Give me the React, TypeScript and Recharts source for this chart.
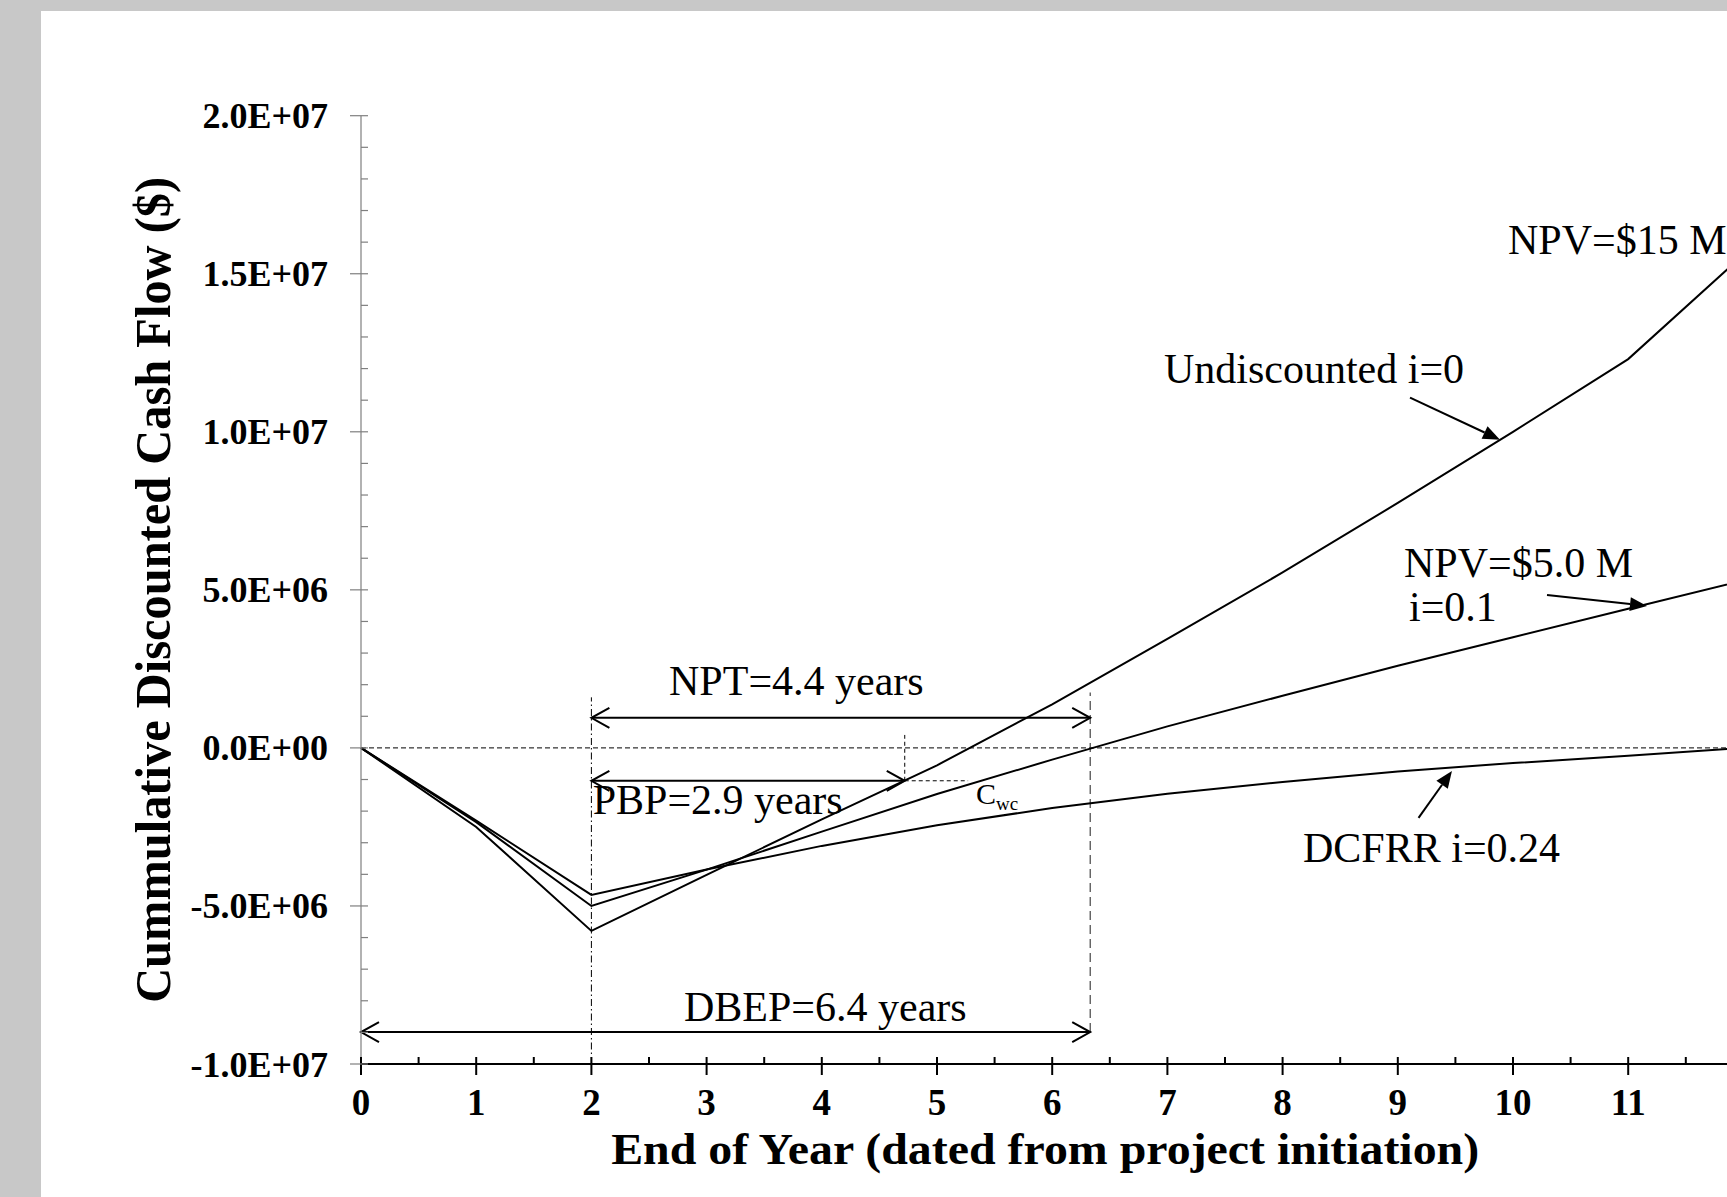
import React from "react";
import { LineChart, Line, XAxis, YAxis, ReferenceLine, ReferenceDot, Label } from "recharts";

// end of year, dated from project initiation
const years = [0, 1, 2, 3, 4, 5, 6, 7, 8, 9, 10, 11, 12];

// cumulative cash flow, $
const undiscounted = [0, -2.5e6, -5.79e6, -4.02e6, -2.26e6, -0.55e6, 1.38e6, 3.45e6, 5.55e6, 7.75e6, 10.0e6, 12.3e6, 15.6e6];
const discounted10 = [0, -2.35e6, -5.0e6, -3.85e6, -2.65e6, -1.46e6, -0.37e6, 0.68e6, 1.65e6, 2.6e6, 3.5e6, 4.4e6, 5.3e6];
const dcfrr24 = [0, -2.3e6, -4.65e6, -3.85e6, -3.1e6, -2.45e6, -1.9e6, -1.45e6, -1.08e6, -0.75e6, -0.48e6, -0.25e6, 0];

const xTickLabels = ["0", "1", "2", "3", "4", "5", "6", "7", "8", "9", "10", "11"];
const yMajor = [-1e7, -5e6, 0, 5e6, 1e7, 1.5e7, 2e7];
const yTickLabels = ["-1.0E+07", "-5.0E+06", "0.0E+00", "5.0E+06", "1.0E+07", "1.5E+07", "2.0E+07"];
const yTicks = Array.from({ length: 31 }, (_, i) => (i - 10) * 1e6);
const xTicks = Array.from({ length: 25 }, (_, i) => i / 2);

const chartData = years.map((year, i) => ({
  year,
  undiscounted: undiscounted[i],
  i10: discounted10[i],
  i24: dcfrr24[i],
}));

const serif = "'Liberation Serif', 'Times New Roman', serif";

const XTick = (props: any) => {
  const { x, y, payload } = props;
  const major = Number.isInteger(payload.value);
  const label = xTickLabels[payload.value];
  return (
    <g>
      <line x1={x} x2={x} y1={y - 7} y2={major ? y + 11 : y} stroke="#000" strokeWidth={2} />
      {major && label && (
        <text x={x} y={y + 51} textAnchor="middle" fontFamily={serif} fontWeight="bold" fontSize={37} fill="#000">
          {label}
        </text>
      )}
    </g>
  );
};

const YTick = (props: any) => {
  const { x, y, payload } = props;
  const idx = yMajor.indexOf(payload.value);
  const major = idx >= 0;
  return (
    <g>
      <line x1={major ? x - 11 : x} x2={x + 7} y1={y} y2={y} stroke="#7f7f7f" strokeWidth={1.2} />
      {major && (
        <text x={x - 33} y={y + 12.5} textAnchor="end" fontFamily={serif} fontWeight="bold" fontSize={36} fill="#000">
          {yTickLabels[idx]}
        </text>
      )}
    </g>
  );
};

const SpanArrow = (props: any) => {
  const { x1, y1, x2, y2 } = props;
  const h = 18;
  const w = 10;
  return (
    <g fill="none" stroke="#000" strokeWidth={2}>
      <line x1={x1} y1={y1} x2={x2} y2={y2} />
      <path d={`M${x1 + h},${y1 - w} L${x1},${y1} L${x1 + h},${y1 + w}`} />
      <path d={`M${x2 - h},${y2 - w} L${x2},${y2} L${x2 - h},${y2 + w}`} />
    </g>
  );
};

const Pointer = (props: any) => {
  const { x1, y1, x2, y2 } = props;
  const dx = x2 - x1;
  const dy = y2 - y1;
  const len = Math.hypot(dx, dy) || 1;
  const ux = dx / len;
  const uy = dy / len;
  const L = 17;
  const W = 7;
  const bx = x2 - ux * L;
  const by = y2 - uy * L;
  return (
    <g>
      <line x1={x1} y1={y1} x2={bx} y2={by} stroke="#000" strokeWidth={2} />
      <polygon points={`${x2},${y2} ${bx - uy * W},${by + ux * W} ${bx + uy * W},${by - ux * W}`} fill="#000" />
    </g>
  );
};

const note = (content: React.ReactNode, size = 42) => (p: any) => (
  <text x={p.cx} y={p.cy} fontFamily={serif} fontSize={size} fill="#000">
    {content}
  </text>
);

// annotation anchors (data units)
const spans = [
  { from: 2, to: 6.33, y: 0.95e6 },
  { from: 2, to: 4.72, y: -1.04e6 },
  { from: 0, to: 6.33, y: -8.99e6 },
];
const pointers = [
  { x1: 9.106, y1: 11.08e6, x2: 9.887, y2: 9.75e6 },
  { x1: 10.295, y1: 4.84e6, x2: 11.163, y2: 4.49e6 },
  { x1: 9.18, y1: -2.215e6, x2: 9.47, y2: -0.728e6 },
];
const notes = [
  { x: 9.957, y: 15.63e6, text: "NPV=$15 M" },
  { x: 6.97, y: 11.55e6, text: "Undiscounted i=0" },
  { x: 9.054, y: 5.41e6, text: "NPV=$5.0 M" },
  { x: 9.097, y: 4.02e6, text: "i=0.1" },
  { x: 8.177, y: -3.61e6, text: "DCFRR i=0.24" },
  { x: 2.674, y: 1.68e6, text: "NPT=4.4 years" },
  { x: 2.011, y: -2.09e6, text: "PBP=2.9 years" },
  { x: 2.804, y: -8.64e6, text: "DBEP=6.4 years" },
];

const series = [
  { key: "undiscounted" },
  { key: "i10" },
  { key: "i24" },
];

export default function App() {
  return (
    <div style={{ position: "absolute", left: 0, top: 0, width: 1727, height: 1197, overflow: "hidden", background: "#c8c8c8" }}>
      <div style={{ position: "absolute", left: 41, top: 11, right: 0, bottom: 0, background: "#fff" }} />
      <div style={{ position: "absolute", left: 0, top: 0 }}>
        <LineChart width={1800} height={1197} data={chartData} margin={{ top: 115.7, right: 56.6, bottom: 73, left: 0 }}>
          <XAxis
            dataKey="year"
            type="number"
            domain={[0, 12]}
            ticks={xTicks}
            interval={0}
            height={60}
            tickSize={0}
            tickMargin={0}
            tickLine={false}
            axisLine={{ stroke: "#000", strokeWidth: 2 }}
            tick={<XTick />}
          >
            <Label
              content={(p: any) => {
                const vb = p.viewBox;
                return (
                  <text
                    x={vb.x + vb.width / 2 - 7}
                    y={1164}
                    textAnchor="middle"
                    fontFamily={serif}
                    fontWeight="bold"
                    fontSize={45}
                    textLength={868}
                    lengthAdjust="spacingAndGlyphs"
                    fill="#000"
                  >
                    End of Year (dated from project initiation)
                  </text>
                );
              }}
            />
          </XAxis>
          <YAxis
            type="number"
            domain={[-1e7, 2e7]}
            ticks={yTicks}
            interval={0}
            width={361}
            tickSize={0}
            tickMargin={0}
            tickLine={false}
            axisLine={{ stroke: "#7f7f7f", strokeWidth: 1.2 }}
            tick={<YTick />}
          >
            <Label
              content={(p: any) => {
                const vb = p.viewBox;
                const cx = vb.x + 170;
                const cy = vb.y + vb.height / 2;
                return (
                  <text
                    x={cx}
                    y={cy}
                    transform={`rotate(-90, ${cx}, ${cy})`}
                    textAnchor="middle"
                    fontFamily={serif}
                    fontWeight="bold"
                    fontSize={51}
                    textLength={826}
                    lengthAdjust="spacingAndGlyphs"
                    fill="#000"
                  >
                    Cummulative Discounted Cash Flow ($)
                  </text>
                );
              }}
            />
          </YAxis>

          <ReferenceLine y={0} stroke="#000" strokeWidth={1} strokeDasharray="5 3" />
          <ReferenceLine segment={[{ x: 2, y: -1e7 }, { x: 2, y: 1.6e6 }]} stroke="#000" strokeWidth={1} strokeDasharray="7 3 1.5 3" />
          <ReferenceLine segment={[{ x: 6.33, y: -8.99e6 }, { x: 6.33, y: 1.75e6 }]} stroke="#444" strokeWidth={1.2} strokeDasharray="9 5" />
          <ReferenceLine segment={[{ x: 4.72, y: -1.04e6 }, { x: 4.72, y: 0.41e6 }]} stroke="#000" strokeWidth={1} strokeDasharray="4 3" />
          <ReferenceLine segment={[{ x: 4.72, y: -1.04e6 }, { x: 5.27, y: -1.04e6 }]} stroke="#000" strokeWidth={1} strokeDasharray="4 3" />

          {series.map((s) => (
            <Line
              key={s.key}
              dataKey={s.key}
              type="linear"
              stroke="#000"
              strokeWidth={2}
              dot={false}
              activeDot={false}
              isAnimationActive={false}
            />
          ))}

          {spans.map((s, i) => (
            <ReferenceLine
              key={`span${i}`}
              segment={[{ x: s.from, y: s.y }, { x: s.to, y: s.y }]}
              shape={<SpanArrow />}
            />
          ))}
          {pointers.map((p, i) => (
            <ReferenceLine
              key={`ptr${i}`}
              segment={[{ x: p.x1, y: p.y1 }, { x: p.x2, y: p.y2 }]}
              shape={<Pointer />}
            />
          ))}
          {notes.map((n, i) => (
            <ReferenceDot key={`note${i}`} x={n.x} y={n.y} ifOverflow="visible" shape={note(n.text)} />
          ))}
          <ReferenceDot
            x={5.339}
            y={-1.77e6}
            ifOverflow="visible"
            shape={note(
              <>
                C
                <tspan fontSize={19} dy={6}>
                  wc
                </tspan>
              </>,
              30
            )}
          />
        </LineChart>
      </div>
    </div>
  );
}
